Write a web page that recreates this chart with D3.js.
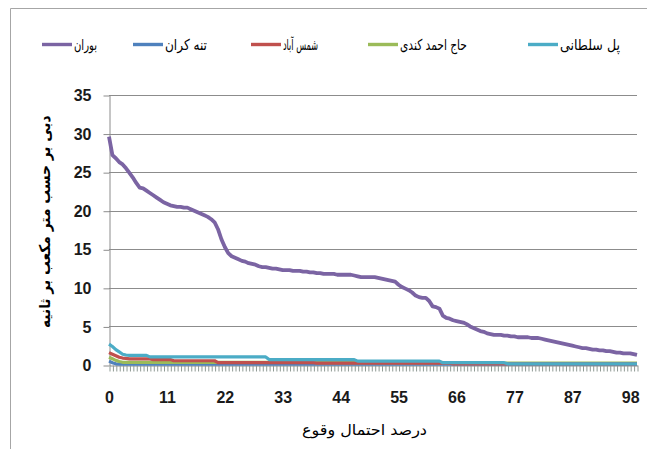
<!DOCTYPE html>
<html>
<head>
<meta charset="utf-8">
<script src="https://cdn.jsdelivr.net/npm/d3@7"></script>
<style>
html,body{margin:0;padding:0;background:#fff;}
svg{display:block;}
</style>
</head>
<body>
<svg id="chart" width="647" height="449"></svg>
<script>
// ---------------- DATA ----------------
const seriesNames = ["تنه کران","حاج احمد کندی","شمس آباد","بوران","پل سلطانی"];
const seriesColors = ["#4F81BD","#9BBB59","#C0504D","#7B64A3","#4BACC6"];
const xTickLabels = ["0","11","22","33","44","55","66","77","87","98"];
const yTickValues = [0,5,10,15,20,25,30,35];
const xTitle = "درصد احتمال وقوع";
const yTitle = "دبی بر حسب متر مکعب بر ثانیه";

const bouran = [29.6,27.2,26.8,26.3,26.0,25.5,24.9,24.3,23.6,23.0,
22.9,22.6,22.3,22.0,21.7,21.4,21.1,20.9,20.7,20.6,
20.5,20.5,20.4,20.4,20.2,20.0,19.8,19.6,19.4,19.2,
18.9,18.5,17.6,16.3,15.3,14.5,14.1,13.9,13.7,13.5,
13.4,13.2,13.1,13.0,12.8,12.7,12.7,12.6,12.5,12.5,
12.4,12.3,12.3,12.3,12.2,12.2,12.2,12.1,12.1,12.0,
12.0,11.9,11.9,11.8,11.8,11.8,11.8,11.7,11.7,11.7,
11.7,11.7,11.6,11.5,11.4,11.4,11.4,11.4,11.4,11.3,
11.2,11.1,11.0,10.9,10.8,10.4,10.1,9.9,9.7,9.4,
9.0,8.8,8.7,8.7,8.3,7.6,7.5,7.3,6.4,6.1,
6.0,5.8,5.7,5.6,5.5,5.3,5.0,4.8,4.6,4.4,
4.3,4.1,4.0,3.9,3.9,3.9,3.8,3.8,3.7,3.7,
3.6,3.6,3.6,3.6,3.5,3.5,3.5,3.4,3.3,3.2,
3.1,3.0,2.9,2.8,2.7,2.6,2.5,2.4,2.3,2.2,
2.2,2.1,2.0,2.0,1.9,1.9,1.8,1.8,1.7,1.6,
1.6,1.5,1.5,1.5,1.4,1.3];

const polSoltani = [2.7,2.4,2.0,1.7,1.4,1.3,1.25,1.25,1.25,1.25,
1.25,1.25,1.05,1.05,1.05,1.05,1.05,1.05,1.05,1.05,
1.05,1.05,1.05,1.05,1.05,1.05,1.05,1.05,1.05,1.05,
1.05,1.05,1.05,1.05,1.05,1.05,1.05,1.05,1.05,1.05,
1.05,1.05,1.05,1.05,1.05,1.05,1.05,0.7,0.7,0.7,
0.7,0.7,0.7,0.7,0.7,0.7,0.7,0.7,0.7,0.7,
0.7,0.7,0.7,0.7,0.7,0.7,0.7,0.7,0.7,0.7,
0.7,0.7,0.7,0.5,0.5,0.5,0.5,0.5,0.5,0.5,
0.5,0.5,0.5,0.5,0.5,0.5,0.5,0.5,0.5,0.5,
0.5,0.5,0.5,0.5,0.5,0.5,0.5,0.5,0.3,0.3,
0.3,0.3,0.3,0.3,0.3,0.3,0.3,0.3,0.3,0.3,
0.3,0.3,0.3,0.3,0.3,0.3,0.3,0.15,0.15,0.15,
0.15,0.15,0.15,0.15,0.15,0.15,0.15,0.15,0.15,0.15,
0.15,0.15,0.15,0.15,0.15,0.15,0.15,0.15,0.15,0.15,
0.15,0.15,0.15,0.15,0.15,0.15,0.15,0.15,0.15,0.15,
0.15,0.15,0.15,0.15,0.15,0.15];

const shamsAbad = [1.6,1.4,1.2,1.0,0.9,0.85,0.8,0.8,0.8,0.8,
0.8,0.8,0.8,0.7,0.7,0.7,0.7,0.7,0.7,0.55,
0.55,0.55,0.55,0.55,0.55,0.55,0.55,0.55,0.55,0.55,
0.55,0.55,0.3,0.3,0.3,0.3,0.3,0.3,0.3,0.3,
0.3,0.3,0.3,0.3,0.3,0.3,0.3,0.3,0.3,0.3,
0.3,0.3,0.3,0.3,0.3,0.3,0.3,0.3,0.3,0.3,
0.3,0.25,0.25,0.25,0.25,0.25,0.25,0.25,0.25,0.25,
0.25,0.25,0.25,0.25,0.25,0.25,0.25,0.25,0.25,0.25,
0.25,0.25,0.25,0.25,0.25,0.25,0.25,0.25,0.25,0.25,
0.25,0.25,0.25,0.25,0.25,0.25,0.25,0.25,0.25,0.25,
0.25,0.15,0.15,0.15,0.15,0.15,0.15,0.15,0.15,0.15,
0.15,0.15,0.15,0.15,0.15,0.15,0.15,0.15,0.15,0.15,
0.15,0.15,0.15,0.15,0.15,0.15,0.15,0.15,0.15,0.15,
0.15,0.15,0.15,0.15,0.15,0.15,0.15,0.15,0.15,0.15,
0.15,0.15,0.15,0.15,0.15,0.15,0.15,0.15,0.15,0.15,
0.15,0.15,0.15,0.15,0.15,0.15];

const hajAhmad = [1.0,0.8,0.6,0.45,0.35,0.35,0.35,0.35,0.35,0.35,
0.35,0.35,0.35,0.35,0.35,0.35,0.35,0.35,0.35,0.35,
0.35,0.35,0.35,0.35,0.35,0.35,0.35,0.35,0.35,0.35,
0.35,0.35,0.35,0.35,0.35,0.35,0.35,0.35,0.35,0.35,
0.35,0.35,0.35,0.35,0.35,0.35,0.35,0.35,0.35,0.35,
0.35,0.35,0.35,0.35,0.35,0.35,0.35,0.35,0.35,0.35,
0.35,0.3,0.3,0.3,0.3,0.3,0.3,0.3,0.3,0.3,
0.3,0.3,0.3,0.3,0.3,0.3,0.3,0.3,0.3,0.3,
0.3,0.3,0.3,0.3,0.3,0.3,0.3,0.3,0.3,0.3,
0.3,0.3,0.3,0.3,0.3,0.3,0.3,0.3,0.3,0.3,
0.3,0.3,0.3,0.3,0.3,0.3,0.3,0.3,0.3,0.3,
0.3,0.25,0.25,0.25,0.25,0.25,0.25,0.25,0.25,0.25,
0.25,0.25,0.25,0.25,0.25,0.25,0.25,0.25,0.25,0.25,
0.25,0.25,0.25,0.25,0.25,0.25,0.25,0.25,0.25,0.25,
0.25,0.25,0.25,0.25,0.25,0.25,0.25,0.25,0.25,0.25,
0.25,0.25,0.25,0.25,0.25,0.25];

const taneKaran = [0.5,0.3,0.15,0.1,0.1,0.1,0.1,0.1,0.1,0.1,
0.1,0.1,0.1,0.1,0.1,0.1,0.1,0.1,0.1,0.1,
0.1,0.1,0.1,0.1,0.1,0.1,0.1,0.1,0.1,0.1,
0.1,0.1,0.1,0.1,0.1,0.1,0.1,0.1,0.1,0.1,
0.1,0.1,0.1,0.1,0.1,0.1,0.1,0.1,0.1,0.1,
0.1,0.1,0.1,0.1,0.1,0.1,0.1,0.1,0.1,0.1,
0.1,0.1,0.1,0.1,0.1,0.1,0.1,0.1,0.1,0.1,
0.1,0.1,0.1,0.1,0.1,0.1,0.1,0.1,0.1,0.1,
0.1,0.1,0.1,0.1,0.1,0.1,0.1,0.1,0.1,0.1,
0.1,0.1,0.1,0.1,0.1,0.1,0.1,0.1,0.1,0.1,
0.1,0.1,0.1,0.1,0.1,0.1,0.1,0.1,0.1,0.1,
0.1,0.1,0.1,0.1,0.1,0.1,0.1,0.1,0.1,0.1,
0.1,0.1,0.1,0.1,0.1,0.1,0.1,0.1,0.1,0.1,
0.1,0.1,0.1,0.1,0.1,0.1,0.1,0.1,0.1,0.1,
0.1,0.1,0.1,0.1,0.1,0.1,0.1,0.1,0.1,0.1,
0.1,0.1,0.1,0.1,0.1,0.1];

// legend order as shown (left to right)
const legendOrder = ["بوران","تنه کران","شمس آباد","حاج احمد کندی","پل سلطانی"];

// --------------- DRAW ----------------
const seriesValues = [taneKaran, hajAhmad, shamsAbad, bouran, polSoltani];
const nCat = bouran.length;
const categories = d3.range(nCat);
const labelStep = 17;

const svg = d3.select("#chart");
const plot = {left:109, right:637, top:95, bottom:365};

// chart area border (top & left visible)
svg.append("line").attr("x1",10.5).attr("x2",647).attr("y1",8.5).attr("y2",8.5)
  .attr("stroke","#a6a6a6").attr("stroke-width",1);
svg.append("line").attr("x1",10.5).attr("x2",10.5).attr("y1",8.5).attr("y2",449)
  .attr("stroke","#a6a6a6").attr("stroke-width",1);

const x = d3.scalePoint().domain(categories).range([plot.left, plot.right]);
const y = d3.scaleLinear().domain([0,35]).range([plot.bottom, plot.top]);

// gridlines
svg.append("g").selectAll("line").data(yTickValues.filter(v=>v>0)).join("line")
  .attr("x1",plot.left).attr("x2",plot.right)
  .attr("y1",d=>Math.round(y(d))+0.5).attr("y2",d=>Math.round(y(d))+0.5)
  .attr("stroke","#8c8c8c").attr("stroke-width",1);

// y axis
const yAxis = svg.append("g").attr("transform",`translate(${plot.left+0.5},0.5)`)
  .call(d3.axisLeft(y).tickValues(yTickValues).tickSize(6).tickPadding(12).tickSizeOuter(0));
yAxis.select(".domain").attr("stroke","#8c8c8c");
yAxis.selectAll(".tick line").attr("stroke","#8c8c8c");
yAxis.selectAll(".tick text").attr("font-family","Liberation Sans, Arial, sans-serif")
  .attr("font-size",16).attr("font-weight","bold").attr("fill","#1a1a1a");

// x axis: dense category ticks
const xAxis = svg.append("g").attr("transform",`translate(0.5,${plot.bottom+0.5})`)
  .call(d3.axisBottom(x).tickValues(categories).tickSize(6).tickFormat("").tickSizeOuter(0));
xAxis.select(".domain").attr("stroke","#8c8c8c");
xAxis.selectAll(".tick line").attr("stroke","#8f9a94");

// x labels every labelStep categories
const labelIdx = xTickLabels.map((_,i)=>i*labelStep);
const xLab = svg.append("g").attr("transform",`translate(0,${plot.bottom})`)
  .call(d3.axisBottom(x).tickValues(labelIdx).tickSize(0).tickPadding(27)
    .tickFormat((d,i)=>xTickLabels[i]));
xLab.select(".domain").remove();
xLab.selectAll(".tick text").attr("font-family","Liberation Sans, Arial, sans-serif")
  .attr("font-size",16).attr("font-weight","bold").attr("fill","#1a1a1a");

// series lines
const line = d3.line().x((d,i)=>x(categories[i])).y(d=>y(d));
svg.append("g").selectAll("path").data(seriesValues).join("path")
  .attr("d",d=>line(d))
  .attr("fill","none")
  .attr("stroke",(d,i)=>seriesColors[i])
  .attr("stroke-width",(d,i)=> i===3 ? 3.8 : 3.2)
  .attr("stroke-linejoin","round")
  .attr("stroke-linecap","butt");

// helper: place text (inside its own group g) into horizontal span [x0,x1]
function fitText(g, t, x0, x1){
  t.attr("x",0).attr("text-anchor","start");
  const bb = t.node().getBBox();
  const sx = (x1-x0)/bb.width;
  g.attr("transform", `translate(${x0 - bb.x*sx},0) scale(${sx},1)`);
}

// axis titles
const xtG = svg.append("g");
const xt = xtG.append("text").attr("y",435)
  .attr("font-family","DejaVu Sans, sans-serif").attr("font-size",15)
  .attr("fill","#000").text(xTitle);
fitText(xtG, xt, 302, 427);

const ytOuter = svg.append("g").attr("transform","translate(50,0) rotate(-90)");
const ytG = ytOuter.append("g");
const yt = ytG.append("text").attr("y",0)
  .attr("font-family","DejaVu Sans, sans-serif").attr("font-size",15).attr("font-weight","bold")
  .attr("fill","#000").text(yTitle);
fitText(ytG, yt, -328, -115);

// legend
const legendSpans = [[74,97],[165,207],[283,318],[400,467],[560,620]];
const legend = svg.append("g");
legendOrder.forEach((name,k)=>{
  const si = seriesNames.indexOf(name);
  const [t0,t1] = legendSpans[k];
  legend.append("line").attr("x1",t0-32).attr("x2",t0-2).attr("y1",44.5).attr("y2",44.5)
    .attr("stroke",seriesColors[si]).attr("stroke-width",3.4);
  const g = legend.append("g");
  const t = g.append("text").attr("y",50)
    .attr("font-family","DejaVu Sans, sans-serif").attr("font-size",15)
    .attr("fill","#000").text(name);
  fitText(g, t, t0, t1);
});
</script>
</body>
</html>
